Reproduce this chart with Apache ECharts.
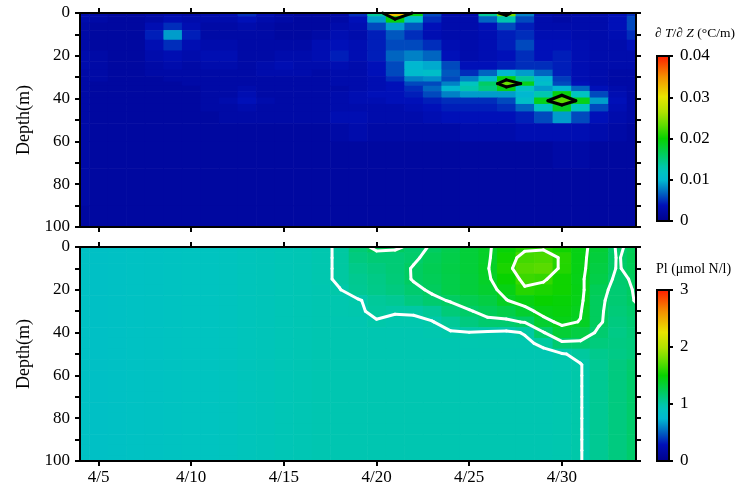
<!DOCTYPE html>
<html><head><meta charset="utf-8">
<script src="https://cdn.jsdelivr.net/npm/echarts@6/dist/echarts.min.js"></script>
<style>html,body{margin:0;padding:0;background:#fff}#c{width:743px;height:497px}</style>
</head><body><div id="c"></div>
<script>
// ---------- DATA ----------
// x: day of April (4 = Apr 4 ... 34 = May 4)
const days = [4,5,6,7,8,9,10,11,12,13,14,15,16,17,18,19,20,21,22,23,24,25,26,27,28,29,30,31,32,33,34];
const xTickDays = [5,10,15,20,25,30];
const depthTickValues = [0,10,20,30,40,50,60,70,80,90,100];
const depthLabelValues = [0,20,40,60,80,100];
const gradTicks = [0,0.01,0.02,0.03,0.04];
const plTicks = [0,1,2,3];

// Top panel: dT/dZ, in units of 0.001 degC/m
const gradDepths = [0,3,6,10,15,20,25,28,31,33,35,38,41,44,48,55,65,80,100];
const gradRows = [
 [3,2.5,2,2,2.5,3,2.5,3,3.5,5,3.5,2.5,2,2,2.5,5,14,32,19,6,3,3,14,24,8,3,2.5,3,3,4,5],
 [3,2.5,2,2,2.5,3.5,3,3,3,4,3,2.5,2,2,2.5,4,9,19.5,11,5,3,3,7,13,6,3,2.5,3,3,4,6],
 [2.5,2,2,2,3.5,5,3.5,2.5,2.5,3,2.5,2,2,2,3,3.5,6,9,6.5,4,3,3,4,6,4.5,3,3,3,3,4,6],
 [2.5,2,2,2,4.5,9,4.5,2.5,2.5,2.5,2.5,2,2,2.5,3.5,3,4.5,6.5,5,3.5,3,3,3.5,4.5,5,3.5,3.5,3,3,3.5,5],
 [2.5,2,2,2,3.5,5,3.5,3,3,2.5,2.5,2.5,2.5,3.5,4,3.5,4.5,6,6,5,3.5,3,3.5,4.5,6,4,4,3.5,3,3,4],
 [3,2.5,2,2,3,3.5,3,3.5,3.5,2.5,2.5,3,3,3.5,4.5,3.5,4.5,7,8,7,4,3,3.5,4,5,4,4.5,3.5,3,3,3],
 [3,2.5,2,2,2.5,3,2.5,3,3,2.5,3,3.5,3,3,3.5,3,4,6,10,9.5,6,4,4,4.5,5,5,4.5,3.5,3,3,3],
 [2.5,2.5,2,2,2.5,2.5,2.5,2.5,2.5,2.5,3,3,3,2.5,3,3,4,6,10.5,11,6.5,5,7,10,9,7,4.5,3.5,3,2.5,2.5],
 [2.5,2.5,2,2,2,2.5,2.5,2.5,2.5,2.5,2.5,2.5,2.5,2.5,3,3,3.5,5,8,8.5,6,8,11,19.5,14,10,5.5,3.5,3,2.5,2.5],
 [2.5,2,2,2,2,2,2.5,2.5,2.5,2.5,2.5,2.5,2.5,2.5,3,3,3.5,4,6,6,8,12,16,23.5,19,11,6,4,3,2.5,2.5],
 [2.5,2,2,2,2,2,2,2.5,2.5,3,2.5,2.5,2.5,2.5,2.5,3,3.5,4,5,7,10,13,15,19,12,9,10,7,4,3,2.5],
 [2.5,2,2,2,2,2,2,2.5,2.5,3.5,2.5,2.5,2.5,2.5,3,3.5,4,4,4.5,6,8,9,9,9,10,13,19.5,12,6,3.5,2.5],
 [2.5,2,2,2,2,2,2,2.5,3,4,3,2.5,2.5,2.5,3,3.5,3.5,4,4,4.5,5,5,5,6,11,19,23,19,9,4,2.5],
 [2.5,2,2,2,2,2,2,2.5,2.5,3,2.5,2.5,2.5,2.5,3,3,3,3,3.5,4,4.5,4.5,4.5,5,7,12,18.5,12,6,3.5,2.5],
 [2.5,2,2,2,2,2,2,2,2.5,2.5,2.5,2.5,2.5,2.5,3.5,3.5,3,3,3,3.5,4,4,4,4,4.5,6,9,6,4,3,2.5],
 [2.5,2,2,2,2,2,2,2,2,2,2,2,2,2,2.5,3,2.5,2.5,2.5,2.5,2.5,3,3,3,3.5,3.5,3.5,3.5,3,2.5,2],
 [2.5,2,2,2,2,2,2,2,2,2,2,2,2,2,2,2,2,2,2,2,2,2,2,2,2,2,2.5,2.5,2,2,2],
 [2.5,2,2,2,2,2,2,2,2,2,2,2,2,2,2,2,2,2,2,2,2,2,2,2,2,2,2,2,2,2,2],
 [2,2,2,2,2,2,2,2,2,2,2,2,2,2,2,2,2,2,2,2,2,2,2,2,2,2,2,2,2,2,2]
];
const gradLevels = [20];      // 0.02 degC/m
const gradMax = 40;           // 0.04 degC/m

// Bottom panel: Pl, umol N/l
const plDepths = [0,5,10,15,20,25,30,35,40,45,50,55,60,65,70,75,80,85,90,95,100];
const plRows = [
 [0.86,0.85,0.86,0.87,0.88,0.89,0.90,0.90,0.91,0.92,0.93,0.94,0.95,0.97,1.02,1.15,1.23,1.22,1.17,1.21,1.27,1.33,1.38,1.48,1.56,1.57,1.52,1.44,1.34,1.18,1.24],
 [0.86,0.85,0.86,0.87,0.88,0.89,0.90,0.90,0.91,0.92,0.93,0.94,0.95,0.97,1.02,1.12,1.15,1.15,1.18,1.24,1.28,1.33,1.38,1.52,1.66,1.68,1.58,1.44,1.32,1.19,1.25],
 [0.86,0.85,0.86,0.87,0.88,0.89,0.90,0.90,0.91,0.92,0.93,0.94,0.95,0.97,1.02,1.09,1.12,1.15,1.21,1.25,1.29,1.33,1.39,1.55,1.70,1.72,1.57,1.44,1.30,1.19,1.24],
 [0.86,0.85,0.86,0.87,0.88,0.89,0.90,0.90,0.91,0.92,0.93,0.94,0.95,0.97,1.02,1.07,1.10,1.14,1.21,1.24,1.28,1.32,1.38,1.50,1.64,1.62,1.52,1.43,1.28,1.17,1.22],
 [0.86,0.85,0.86,0.87,0.88,0.89,0.90,0.90,0.91,0.92,0.93,0.94,0.95,0.96,0.995,1.06,1.09,1.12,1.17,1.22,1.28,1.32,1.36,1.44,1.58,1.55,1.52,1.44,1.24,1.16,1.21],
 [0.86,0.85,0.86,0.87,0.88,0.89,0.90,0.90,0.91,0.92,0.93,0.94,0.95,0.96,0.97,0.99,1.04,1.06,1.12,1.17,1.21,1.26,1.30,1.395,1.45,1.50,1.48,1.43,1.22,1.16,1.205],
 [0.86,0.85,0.86,0.87,0.88,0.89,0.90,0.90,0.91,0.92,0.93,0.94,0.95,0.96,0.97,0.98,1.03,1.01,1.015,1.05,1.14,1.19,1.24,1.28,1.36,1.44,1.46,1.41,1.22,1.14,1.18],
 [0.86,0.85,0.86,0.87,0.88,0.89,0.90,0.90,0.91,0.92,0.93,0.94,0.95,0.96,0.96,0.96,0.99,0.975,0.975,0.995,1.05,1.12,1.17,1.17,1.21,1.36,1.43,1.395,1.22,1.12,1.16],
 [0.86,0.85,0.86,0.87,0.88,0.89,0.90,0.90,0.91,0.92,0.93,0.94,0.95,0.96,0.96,0.96,0.96,0.96,0.96,0.97,0.99,0.995,0.98,0.97,1.01,1.19,1.34,1.30,1.17,1.10,1.14],
 [0.86,0.85,0.86,0.87,0.88,0.89,0.90,0.90,0.91,0.92,0.93,0.94,0.95,0.96,0.96,0.96,0.96,0.96,0.96,0.96,0.96,0.965,0.97,0.97,0.97,1.03,1.17,1.17,1.13,1.11,1.13],
 [0.86,0.85,0.86,0.87,0.88,0.89,0.90,0.90,0.91,0.92,0.93,0.94,0.95,0.96,0.96,0.96,0.96,0.96,0.96,0.96,0.96,0.96,0.96,0.96,0.96,0.96,0.99,1.03,1.08,1.10,1.13],
 [0.86,0.85,0.86,0.87,0.88,0.89,0.90,0.90,0.91,0.92,0.93,0.94,0.95,0.96,0.96,0.96,0.96,0.96,0.96,0.96,0.96,0.96,0.96,0.96,0.96,0.96,0.97,0.995,1.06,1.12,1.17],
 [0.86,0.85,0.86,0.87,0.88,0.89,0.90,0.90,0.91,0.92,0.93,0.94,0.95,0.96,0.96,0.96,0.96,0.96,0.96,0.96,0.96,0.96,0.96,0.96,0.96,0.96,0.97,0.995,1.06,1.12,1.18],
 [0.86,0.85,0.86,0.87,0.88,0.89,0.90,0.90,0.91,0.92,0.93,0.94,0.95,0.96,0.96,0.96,0.96,0.96,0.96,0.96,0.96,0.96,0.96,0.96,0.96,0.96,0.97,0.995,1.06,1.12,1.18],
 [0.86,0.85,0.86,0.87,0.88,0.89,0.90,0.90,0.91,0.92,0.93,0.94,0.95,0.96,0.96,0.96,0.96,0.96,0.96,0.96,0.96,0.96,0.96,0.96,0.96,0.96,0.97,0.995,1.06,1.12,1.18],
 [0.86,0.85,0.86,0.87,0.88,0.89,0.90,0.90,0.91,0.92,0.93,0.94,0.95,0.96,0.96,0.96,0.96,0.96,0.96,0.96,0.96,0.96,0.96,0.96,0.96,0.96,0.97,0.995,1.06,1.12,1.18],
 [0.86,0.85,0.86,0.87,0.88,0.89,0.90,0.90,0.91,0.92,0.93,0.94,0.95,0.96,0.96,0.96,0.96,0.96,0.96,0.96,0.96,0.96,0.96,0.96,0.96,0.96,0.97,0.995,1.06,1.12,1.18],
 [0.86,0.85,0.86,0.87,0.88,0.89,0.90,0.90,0.91,0.92,0.93,0.94,0.95,0.96,0.96,0.96,0.96,0.96,0.96,0.96,0.96,0.96,0.96,0.96,0.96,0.96,0.97,0.995,1.06,1.12,1.18],
 [0.86,0.85,0.86,0.87,0.88,0.89,0.90,0.90,0.91,0.92,0.93,0.94,0.95,0.96,0.96,0.96,0.96,0.96,0.96,0.96,0.96,0.96,0.96,0.96,0.96,0.96,0.97,0.995,1.06,1.12,1.18],
 [0.86,0.85,0.86,0.87,0.88,0.89,0.90,0.90,0.91,0.92,0.93,0.94,0.95,0.96,0.96,0.96,0.96,0.96,0.96,0.96,0.96,0.96,0.96,0.96,0.96,0.96,0.97,0.995,1.06,1.12,1.18],
 [0.86,0.85,0.86,0.87,0.88,0.89,0.90,0.90,0.91,0.92,0.93,0.94,0.95,0.96,0.96,0.96,0.96,0.96,0.96,0.96,0.96,0.96,0.96,0.96,0.96,0.96,0.97,0.995,1.06,1.12,1.18]
];
const plLevels = [1.0,1.2,1.4,1.6];
const plMax = 3;

// ---------- COLOUR SCALE ----------
const cmapStops = [[0,'#000088'],[0.1,'#0010b8'],[0.17,'#0060c0'],[0.25,'#00b8d0'],[0.3,'#00c4c0'],
  [0.333,'#00c8a8'],[0.4,'#00cc64'],[0.5,'#08d200'],[0.58,'#60dc00'],[0.66,'#b0e200'],
  [0.75,'#e8e400'],[0.87,'#f49000'],[1,'#ff1800']];
function hex(c){return [parseInt(c.substr(1,2),16),parseInt(c.substr(3,2),16),parseInt(c.substr(5,2),16)];}
function cmap(t){
  t=Math.max(0,Math.min(1,t));
  for(let k=1;k<cmapStops.length;k++){
    if(t<=cmapStops[k][0]){
      const a=cmapStops[k-1],b=cmapStops[k];
      const f=(t-a[0])/(b[0]-a[0]);
      const ca=hex(a[1]),cb=hex(b[1]);
      return 'rgb('+ca.map((v,i)=>Math.round(v+(cb[i]-v)*f)).join(',')+')';
    }
  }
  return cmapStops[cmapStops.length-1][1];
}

// ---------- BUILD CELLS ----------
function cells(xs, ys, rows){
  const out=[];
  for(let j=0;j<ys.length;j++){
    const y0 = j===0?ys[0]:(ys[j-1]+ys[j])/2;
    const y1 = j===ys.length-1?ys[j]:(ys[j]+ys[j+1])/2;
    for(let i=0;i<xs.length;i++){
      const x0 = i===0?xs[0]:(xs[i-1]+xs[i])/2;
      const x1 = i===xs.length-1?xs[i]:(xs[i]+xs[i+1])/2;
      out.push([x0,x1,y0,y1,rows[j][i]]);
    }
  }
  return out;
}
// ---------- MARCHING SQUARES ----------
function contourSegs(xs, ys, rows, levels){
  const segs=[];
  levels.forEach(L=>{
    for(let j=0;j<ys.length-1;j++){
      for(let i=0;i<xs.length-1;i++){
        const a=rows[j][i], b=rows[j][i+1], c=rows[j+1][i+1], d=rows[j+1][i];
        const xa=xs[i], xb=xs[i+1], ya=ys[j], yb=ys[j+1];
        const up=[a>=L,b>=L,c>=L,d>=L];
        const e=[null,null,null,null];
        if(up[0]!==up[1]) e[0]=[xa+(xb-xa)*(L-a)/(b-a), ya];
        if(up[1]!==up[2]) e[1]=[xb, ya+(yb-ya)*(L-b)/(c-b)];
        if(up[3]!==up[2]) e[2]=[xa+(xb-xa)*(L-d)/(c-d), yb];
        if(up[0]!==up[3]) e[3]=[xa, ya+(yb-ya)*(L-a)/(d-a)];
        const pts=e.filter(p=>p);
        if(pts.length===2){ segs.push([pts[0][0],pts[0][1],pts[1][0],pts[1][1]]); }
        else if(pts.length===4){
          const cen=(a+b+c+d)/4>=L;
          const adj=[[0,3],[0,1],[1,2],[2,3]];
          for(let k=0;k<4;k++){ if(up[k]!==cen){ const p=e[adj[k][0]],q=e[adj[k][1]]; segs.push([p[0],p[1],q[0],q[1]]);} }
        }
      }
    }
  });
  return segs;
}

const heatTop = cells(days, gradDepths, gradRows);
const heatBot = cells(days, plDepths, plRows);
const contTop = contourSegs(days, gradDepths, gradRows, gradLevels);
const contBot = contourSegs(days, plDepths, plRows, plLevels);

// ---------- CHART ----------
const FONT='Liberation Serif';
function heatRender(vmax){
  return function(params, api){
    const p0=api.coord([api.value(0),api.value(2)]);
    const p1=api.coord([api.value(1),api.value(3)]);
    return {type:'rect', shape:{x:Math.min(p0[0],p1[0]), y:Math.min(p0[1],p1[1]),
      width:Math.abs(p1[0]-p0[0])+0.6, height:Math.abs(p1[1]-p0[1])+0.6},
      style:{fill:cmap(api.value(4)/vmax)}};
  };
}
function lineRender(color){
  return function(params, api){
    const p=api.coord([api.value(0),api.value(1)]);
    const q=api.coord([api.value(2),api.value(3)]);
    return {type:'line', shape:{x1:p[0],y1:p[1],x2:q[0],y2:q[1]},
      style:{stroke:color, lineWidth:3, lineCap:'round'}};
  };
}
function barRender(params, api){
  const p0=api.coord([0,api.value(0)]);
  const p1=api.coord([1,api.value(1)]);
  return {type:'rect', shape:{x:p0[0],y:p1[1],width:p1[0]-p0[0],height:p0[1]-p1[1]},
    style:{fill:{type:'linear',x:0,y:1,x2:0,y2:0,colorStops:cmapStops.map(s=>({offset:s[0],color:s[1]}))},
      stroke:'#000', lineWidth:2}};
}
const lineStyleAx={color:'#000',width:2};
function xAx(grid,pos,labels){
  return {type:'value',gridIndex:grid,position:pos,min:4,max:34,z:10,
    axisLine:{onZero:false,lineStyle:lineStyleAx},
    axisTick:{show:true,inside:false,length:5,lineStyle:lineStyleAx,customValues:xTickDays},
    axisLabel:{show:labels,customValues:xTickDays,formatter:v=>'4/'+v,color:'#000',fontFamily:FONT,fontSize:17,margin:8},
    splitLine:{show:false}};
}
function yAx(grid,pos,labels,name){
  return {type:'value',gridIndex:grid,position:pos,inverse:true,min:0,max:100,z:10,
    axisLine:{onZero:false,lineStyle:lineStyleAx},
    axisTick:{show:true,inside:false,length:5,lineStyle:lineStyleAx,customValues:depthTickValues},
    axisLabel:{show:labels,customValues:depthLabelValues,color:'#000',fontFamily:FONT,fontSize:17,margin:10},
    splitLine:{show:false},
    name:name||'',nameLocation:'middle',nameGap:40,nameRotate:90,
    nameTextStyle:{color:'#000',fontFamily:FONT,fontSize:18}};
}
function cbAx(grid,max,ticks,fmt){
  return {type:'value',gridIndex:grid,position:'right',min:0,max:max,z:10,
    axisLine:{onZero:false,lineStyle:lineStyleAx},
    axisTick:{show:true,inside:false,length:4,lineStyle:lineStyleAx,customValues:ticks},
    axisLabel:{customValues:ticks,formatter:fmt,color:'#000',fontFamily:FONT,fontSize:17,margin:11},
    splitLine:{show:false}};
}
const chart=echarts.init(document.getElementById('c'),null,{renderer:'canvas'});
chart.setOption({
  animation:false,
  backgroundColor:'#fff',
  grid:[
    {left:80,top:13,width:556,height:214},
    {left:80,top:247,width:556,height:214},
    {left:657,top:56,width:12,height:165},
    {left:657,top:290,width:12,height:171}
  ],
  xAxis:[
    xAx(0,'bottom',false), xAx(0,'top',false), xAx(1,'bottom',true), xAx(1,'top',false),
    {type:'value',gridIndex:2,min:0,max:1,show:false},
    {type:'value',gridIndex:3,min:0,max:1,show:false}
  ],
  yAxis:[
    yAx(0,'left',true,'Depth(m)'), yAx(0,'right',false), yAx(1,'left',true,'Depth(m)'), yAx(1,'right',false),
    cbAx(2,gradMax/1000,gradTicks,v=>v===0?'0':v.toFixed(2)),
    cbAx(3,plMax,plTicks,v=>String(v))
  ],
  series:[
    {type:'custom',xAxisIndex:0,yAxisIndex:0,data:heatTop,encode:{x:[0,1],y:[2,3]},renderItem:heatRender(gradMax),silent:true,z:1},
    {type:'custom',xAxisIndex:0,yAxisIndex:0,data:contTop,encode:{x:[0,2],y:[1,3]},renderItem:lineRender('#000'),silent:true,z:2},
    {type:'custom',xAxisIndex:2,yAxisIndex:2,data:heatBot,encode:{x:[0,1],y:[2,3]},renderItem:heatRender(plMax),silent:true,z:1},
    {type:'custom',xAxisIndex:2,yAxisIndex:2,data:contBot,encode:{x:[0,2],y:[1,3]},renderItem:lineRender('#fff'),silent:true,z:2},
    {type:'custom',xAxisIndex:4,yAxisIndex:4,data:[[0,gradMax/1000]],encode:{y:[0,1]},renderItem:barRender,silent:true,z:1},
    {type:'custom',xAxisIndex:5,yAxisIndex:5,data:[[0,plMax]],encode:{y:[0,1]},renderItem:barRender,silent:true,z:1}
  ],
  graphic:[
    {type:'text',left:655,top:26,silent:true,style:{
      text:'{a|\u2202 }{b|T}{a|/\u2202 }{b|Z}{a| (\u00B0C/m)}',
      rich:{a:{fontFamily:FONT,fontSize:13.5,fill:'#000'},b:{fontFamily:FONT,fontSize:13.5,fontStyle:'italic',fill:'#000'}}}},
    {type:'text',left:656,top:262,silent:true,style:{text:'Pl (\u03BCmol N/l)',fontFamily:FONT,fontSize:14,fill:'#000'}}
  ]
});
</script></body></html>
